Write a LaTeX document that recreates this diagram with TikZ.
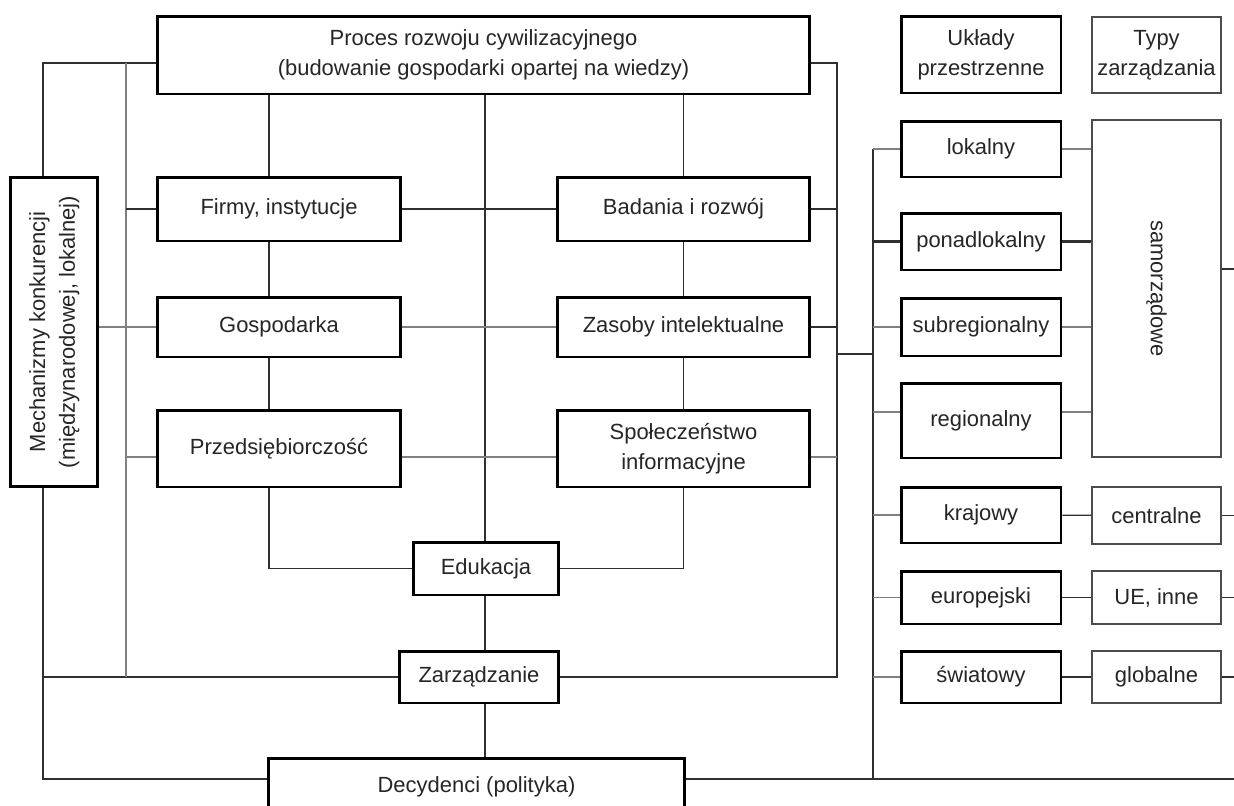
\documentclass[tikz,border=0pt]{standalone}
\usepackage{fontspec}
\setmainfont{Liberation Sans}
\usepackage{tikz}
\usetikzlibrary{calc}
\definecolor{ltekst}{HTML}{262626}
\definecolor{llinia}{HTML}{303030}
\definecolor{lszary}{HTML}{808080}

\begin{document}
\begin{tikzpicture}[x=0.02cm,y=-0.02cm,
  box/.style={rectangle,draw=black,line width=1.7pt,inner sep=0pt,align=center,
    text=ltekst,font=\fontsize{12.5}{17}\selectfont},
  tbox/.style={box,draw=black!70,line width=0.8pt},
  lc/.style={box,minimum width=4.88cm},
  rc/.style={box,minimum width=5.06cm},
  uk/.style={box,minimum width=3.2cm},
  ty/.style={tbox,minimum width=2.58cm},
  lin/.style={llinia,line width=0.75pt},
  linl/.style={lszary,line width=0.75pt}]
  \fill[white] (0,0) rectangle (1234,805);
  \useasboundingbox (0,0) rectangle (1234,805);
  % naglowki
  \node[box,minimum width=13.06cm,minimum height=1.56cm] (proc) at (483.5,55)
    {Proces rozwoju cywilizacyjnego\\(budowanie gospodarki opartej na wiedzy)};
  \node[uk,minimum height=1.54cm] (ukl) at (981,54.5) {Układy\\przestrzenne};
  \node[ty,minimum height=1.52cm] (typy) at (1156.5,55) {Typy\\zarządzania};
  \node[box,minimum width=1.76cm,minimum height=6.2cm] (mech) at (54,332)
    {\rotatebox{90}{\begin{tabular}{@{}c@{}}Mechanizmy konkurencji\\(międzynarodowej, lokalnej)\end{tabular}}};
  % kolumny srodkowe
  \node[lc,minimum height=1.28cm] (firmy) at (279,209) {Firmy, instytucje};
  \node[lc,minimum height=1.2cm] (gosp) at (279,327) {Gospodarka};
  \node[lc,minimum height=1.54cm] (przed) at (279,448.5) {Przedsiębiorczość};
  \node[rc,minimum height=1.28cm] (bad) at (683.5,209) {Badania i rozwój};
  \node[rc,minimum height=1.2cm] (zas) at (683.5,327) {Zasoby intelektualne};
  \node[rc,minimum height=1.54cm] (spol) at (683.5,448.5) {Społeczeństwo\\informacyjne};
  \node[box,minimum width=2.92cm,minimum height=1.06cm] (edu) at (486,568.5) {Edukacja};
  \node[box,minimum width=3.2cm,minimum height=1.04cm] (zarz) at (479,677) {Zarządzanie};
  \node[box,minimum width=8.34cm,minimum height=1.16cm] (decy) at (476.5,787) {Decydenci (polityka)};
  % uklady przestrzenne
  \node[uk,minimum height=1.12cm] (lok) at (981,149) {lokalny};
  \node[uk,minimum height=1.14cm] (ponad) at (981,241.5) {ponadlokalny};
  \node[uk,minimum height=1.16cm] (subreg) at (981,327) {subregionalny};
  \node[uk,minimum height=1.5cm] (reg) at (981,420.5) {regionalny};
  \node[uk,minimum height=1.12cm] (kraj) at (981,515) {krajowy};
  \node[uk,minimum height=1.06cm] (eur) at (981,597.5) {europejski};
  \node[uk,minimum height=1.04cm] (swiat) at (981,677) {światowy};
  % typy zarzadzania
  \node[ty,minimum height=6.74cm] (samo) at (1156.5,288.5) {\rotatebox{-90}{samorządowe}};
  \node[ty,minimum height=1.14cm] (centr) at (1156.5,515.5) {centralne};
  \node[ty,minimum height=1.06cm] (ue) at (1156.5,597.5) {UE, inne};
  \node[ty,minimum height=1.04cm] (glob) at (1156.5,677) {globalne};
  % punkty szyn
  \coordinate (bl) at (43,63);
  \coordinate (bg) at (126,63);
  \coordinate (vl) at (269,0);
  \coordinate (vc) at (485,0);
  \coordinate (br) at (837,63);
  \coordinate (bs) at (873,354);
  \coordinate (dl) at (43,779);
  \coordinate (dr) at (1234,779);
  \coordinate (sr) at (1234,269);
  \coordinate (pl) at (0,457);
  \coordinate (rl) at (0,412);
  % lewa szyna
  \draw[lin] (proc.west |- bl) -- (bl) -- (bl |- mech.north);
  \draw[lin] (bl |- mech.south) -- (dl) -- (dl -| decy.west);
  \draw[lin] (bl |- zarz.west) -- (zarz.west);
  \draw[linl] (bg) -- (bg |- zarz.west);
  \draw[lin] (bg |- firmy.west) -- (firmy.west);
  \draw[linl] (mech.east |- gosp.west) -- (gosp.west);
  \draw[linl] (bg |- pl) -- (przed.west |- pl);
  % kolumna lewa
  \draw[lin] (vl |- proc.south) -- (vl |- firmy.north);
  \draw[lin] (vl |- firmy.south) -- (vl |- gosp.north);
  \draw[lin] (vl |- gosp.south) -- (vl |- przed.north);
  \draw[lin] (vl |- przed.south) |- (edu.west);
  % kolumna prawa
  \draw[lin] (bad.north |- proc.south) -- (bad.north);
  \draw[lin] (bad.south) -- (zas.north);
  \draw[lin] (zas.south) -- (spol.north);
  \draw[lin] (spol.south) |- (edu.east);
  % os srodkowa
  \draw[lin] (vc |- proc.south) -- (vc |- edu.north);
  \draw[lin] (vc |- edu.south) -- (vc |- zarz.north);
  \draw[lin] (vc |- zarz.south) -- (vc |- decy.north);
  \draw[lin] (firmy.east) -- (bad.west);
  \draw[linl] (gosp.east) -- (zas.west);
  \draw[linl] (przed.east |- pl) -- (spol.west |- pl);
  % prawa szyna
  \draw[lin] (proc.east |- br) -- (br) -- (br |- zarz.east) -- (zarz.east);
  \draw[lin] (bad.east) -- (bad.east -| br);
  \draw[lin] (zas.east) -- (zas.east -| br);
  \draw[linl] (spol.east |- pl) -- (br |- pl);
  \draw[lin] (br |- bs) -- (bs);
  % uklady
  \draw[lin] (bs |- lok.west) -- (bs |- dr);
  \draw[lin] (decy.east |- dr) -- (dr);
  \foreach \n in {lok,subreg,kraj,eur,swiat}
    \draw[linl] (bs |- \n.west) -- (\n.west);
  \draw[linl] (bs |- rl) -- (reg.west |- rl);
  \draw[lin,line width=1.4pt] (bs |- ponad.west) -- (ponad.west);
  \foreach \n in {lok,subreg}
    \draw[linl] (\n.east) -- (\n.east -| samo.west);
  \draw[linl] (reg.east |- rl) -- (samo.west |- rl);
  \draw[lin,line width=1.4pt] (ponad.east) -- (ponad.east -| samo.west);
  \foreach \a/\b in {kraj/centr,eur/ue,swiat/glob}
    \draw[lin] (\a) -- (\b);
  \draw[lin] (samo.east |- sr) -- (sr);
  \foreach \n in {centr,ue,glob}
    \draw[lin] (\n.east) -- (\n.east -| sr);
\end{tikzpicture}
\end{document}
